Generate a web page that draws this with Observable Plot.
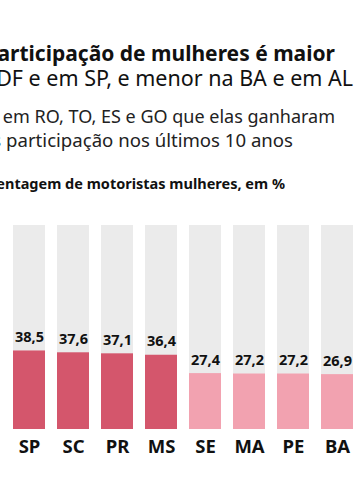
<!DOCTYPE html>
<html>
<head>
<meta charset="utf-8">
<script src="https://cdn.jsdelivr.net/npm/d3@7"></script>
<script src="https://cdn.jsdelivr.net/npm/@observablehq/plot@0.6"></script>
<style>
  html, body { margin: 0; padding: 0; background: #fff; }
  #wrap { position: relative; width: 360px; height: 504px; overflow: hidden; font-family: "Noto Sans", sans-serif; color: #111; }
  #head { position: relative; width: 360px; height: 200px; }
  .ln { position: absolute; white-space: nowrap; line-height: 1; }
  .t1 { font-size: 21px; font-weight: 700; top: 43.4px; right: 25px; }
  .t2 { font-size: 21.5px; font-weight: 400; top: 67px; right: 7px; }
  .s1 { font-size: 18px; top: 107px; right: 25px; color: #222; }
  .s2 { font-size: 18.6px; top: 130.5px; right: 67px; color: #222; }
  .ax { font-size: 14.5px; font-weight: 700; top: 176px; right: 75px; }
  #chart { height: 304px; }
  #chart svg { display: block; }
</style>
</head>
<body>
<div id="wrap">
  <div id="head">
    <div class="ln t1">A participação de mulheres é maior</div>
    <div class="ln t2">no DF e em SP, e menor na BA e em AL</div>
    <div class="ln s1">Mas foi em RO, TO, ES e GO que elas ganharam</div>
    <div class="ln s2">mais participação nos últimos 10 anos</div>
    <div class="ln ax">Porcentagem de motoristas mulheres, em %</div>
  </div>
  <div id="chart"></div>
</div>
<script>
const estados = ["SP", "SC", "PR", "MS", "SE", "MA", "PE", "BA"];
const valores = [38.5, 37.6, 37.1, 36.4, 27.4, 27.2, 27.2, 26.9];
const rotulos = ["38,5", "37,6", "37,1", "36,4", "27,4", "27,2", "27,2", "26,9"];
const acimaDaMedia = [true, true, true, true, false, false, false, false];
const total = 100;

const data = estados.map((e, i) => ({
  estado: e, valor: valores[i], rotulo: rotulos[i], alto: acimaDaMedia[i], total
}));

const chart = Plot.plot({
  width: 360,
  height: 304,
  marginTop: 25,
  marginBottom: 75,
  marginLeft: 0,
  marginRight: 0,
  style: { fontFamily: "Noto Sans, sans-serif", color: "#111", background: "transparent" },
  x: { domain: estados, range: [-2.7, 367.6], padding: 0.284, axis: null },
  y: { domain: [0, 100], axis: null },
  marks: [
    Plot.barY(data, { x: "estado", y1: 0, y2: "total", fill: "#ebebeb" }),
    Plot.barY(data, { x: "estado", y1: 0, y2: "valor", fill: d => d.alto ? "#d4566c" : "#f2a2b0" }),
    Plot.text(data, { x: "estado", y: "valor", text: "rotulo", lineAnchor: "bottom", dy: -9, fontSize: 14.5, fontWeight: "bold", fill: "#111" }),
    Plot.text(data, { x: "estado", y: 0, text: "estado", lineAnchor: "bottom", dy: 23, fontSize: 18.5, fontWeight: "bold", fill: "#111" })
  ]
});
document.getElementById("chart").appendChild(chart);
</script>
</body>
</html>
